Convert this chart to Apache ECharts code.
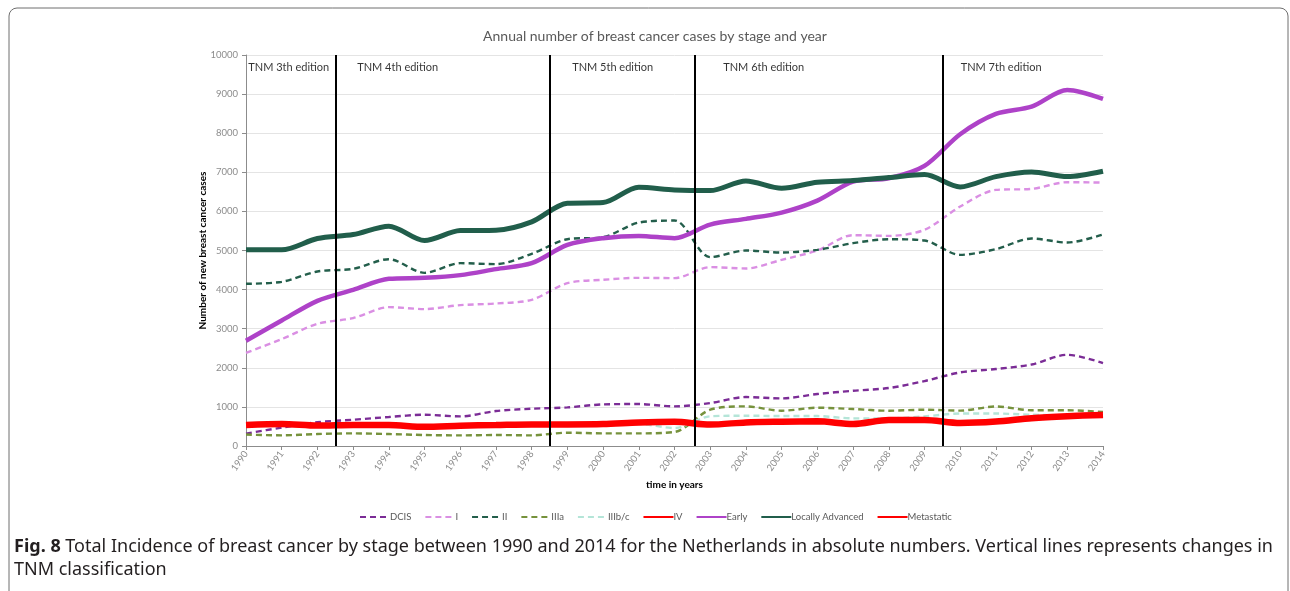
<!DOCTYPE html>
<html>
<head>
<meta charset="utf-8">
<script src="https://cdn.jsdelivr.net/npm/echarts@6/dist/echarts.min.js"></script>
<style>
html,body{margin:0;padding:0;background:#fff;}
#chart{width:1290px;height:591px;}
</style>
</head>
<body>
<div id="chart"></div>
<script>
const years = [1990,1991,1992,1993,1994,1995,1996,1997,1998,1999,2000,2001,2002,2003,2004,2005,2006,2007,2008,2009,2010,2011,2012,2013,2014];
const dcis      = [318,470,608,672,741,800,757,894,953,987,1064,1073,1013,1099,1252,1218,1329,1413,1482,1661,1882,1968,2085,2333,2121];
const stageI    = [2380,2734,3125,3271,3552,3501,3603,3645,3739,4165,4250,4301,4293,4574,4540,4761,5000,5392,5374,5528,6124,6550,6576,6747,6737];
const stageII   = [4148,4199,4463,4531,4778,4429,4676,4651,4914,5289,5340,5714,5766,4830,5000,4948,5017,5187,5289,5255,4889,5034,5306,5204,5408];
const stageIIIa = [293,272,306,323,306,281,272,281,272,340,323,323,358,928,1013,902,979,945,902,928,905,1010,915,915,872];
const stageIIIbc= [530,555,515,535,535,485,515,535,550,550,560,562,460,760,775,766,766,707,707,758,830,830,800,780,790];
const stageIV   = [540,565,522,540,538,490,518,536,553,553,561,604,621,548,604,621,630,561,664,664,587,624,710,762,795];
const early     = [2690,3210,3713,3994,4275,4300,4370,4523,4676,5144,5315,5374,5315,5663,5809,5970,6277,6762,6849,7163,7973,8492,8679,9105,8876];
const locAdv    = [5017,5017,5306,5408,5622,5255,5510,5519,5732,6210,6226,6619,6550,6532,6780,6593,6747,6788,6865,6941,6627,6890,7010,6890,7027];
const metastatic= [540,565,522,540,538,490,518,536,553,553,561,604,621,548,604,621,630,561,664,664,587,624,710,762,795];

const editionBreaks = [1992.5, 1998.5, 2002.57, 2009.5];
const editionLabels = ['TNM 3th edition','TNM 4th edition','TNM 5th edition','TNM 6th edition','TNM 7th edition'];
const editionLabelX = [1990.05, 1993.1, 1999.12, 2003.35, 2010.0];
const editionLabelY = 9670;

const yTicks = {min:0, max:10000, interval:1000};

function pairs(arr){ return years.map((y,i)=>[y,arr[i]]); }

const chart = echarts.init(document.getElementById('chart'), null, {renderer:'canvas'});

const FONT = 'Lato';
function dashed(name, data, color, dash){
  return {name, type:'line', data:pairs(data), smooth:0.3, symbol:'none', showSymbol:false,
    lineStyle:{color, width:2.4, type:dash||[6,4]}, itemStyle:{color}, z:2};
}
function solid(name, data, color, width){
  return {name, type:'line', data:pairs(data), smooth:0.3, symbol:'none', showSymbol:false,
    lineStyle:{color, width, type:'solid'}, itemStyle:{color}, z:3};
}

const series = [
  dashed('DCIS', dcis, '#7B2C96'),
  dashed('I', stageI, '#DA8FE3'),
  dashed('II', stageII, '#235E4B'),
  dashed('IIIa', stageIIIa, '#76923C'),
  dashed('IIIb/c', stageIIIbc, '#B4E5D8'),
  solid('IV', stageIV, '#FF0000', 1.5),
  solid('Early', early, '#AE42C8', 4.5),
  solid('Locally Advanced', locAdv, '#215E4B', 5),
  solid('Metastatic', metastatic, '#FF0000', 6.5),
  {
    name:'breaks', type:'line', data:[], symbol:'none', silent:true,
    markLine:{symbol:'none', silent:true, animation:false,
      label:{show:false},
      lineStyle:{color:'#000', width:2, type:'solid'},
      data: editionBreaks.map(v=>({xAxis:v}))
    }, z:4
  },
  {
    name:'labels', type:'scatter', silent:true, symbolSize:1,
    itemStyle:{color:'rgba(0,0,0,0)'},
    data: editionLabels.map((t,i)=>({name:t, value:[editionLabelX[i], editionLabelY]})),
    label:{show:true, position:'right', distance:0, formatter:'{b}', color:'#000', fontFamily:FONT, fontSize:11},
    z:5
  }
];

const option = {
  animation:false,
  backgroundColor:'#fff',
  title:{text:'Annual number of breast cancer cases by stage and year', left:650, textAlign:'center', top:24,
    textStyle:{color:'#595959', fontFamily:FONT, fontSize:14, fontWeight:'normal'}},
  grid:{left:246, right:187, top:55, bottom:145, containLabel:false},
  legend:{data:['DCIS','I','II','IIIa','IIIb/c','IV','Early','Locally Advanced','Metastatic'],
    left:354, top:507, itemWidth:30, itemHeight:8, itemGap:13,
    itemStyle:{opacity:0},
    textStyle:{color:'#595959', fontFamily:FONT, fontSize:9.5, padding:[0,0,0,-5]}},
  xAxis:{type:'value', min:1990, max:2014, interval:1,
    name:'time in years', nameLocation:'middle', nameGap:34,
    nameTextStyle:{color:'#000', fontFamily:FONT, fontWeight:'bold', fontSize:10},
    axisLine:{show:true, lineStyle:{color:'#8c8c8c', width:1}},
    axisTick:{show:true, length:4, lineStyle:{color:'#8c8c8c'}},
    axisLabel:{rotate:55, color:'#8c8c8c', fontFamily:FONT, fontSize:9.5, margin:6, formatter:v=>String(v)},
    splitLine:{show:false}},
  yAxis:{type:'value', min:yTicks.min, max:yTicks.max, interval:yTicks.interval,
    name:'Number of new breast cancer cases', nameLocation:'middle', nameGap:38, nameMoveOverlap:false,
    nameTextStyle:{color:'#000', fontFamily:FONT, fontWeight:'bold', fontSize:10},
    axisLine:{show:true, lineStyle:{color:'#8c8c8c', width:1}},
    axisTick:{show:true, length:4, lineStyle:{color:'#8c8c8c'}},
    axisLabel:{color:'#8c8c8c', fontFamily:FONT, fontSize:9.5, margin:8, formatter:v=>String(v)},
    splitLine:{show:true, lineStyle:{color:'#e4e4e4', width:1}}},
  series,
  graphic:[
    {type:'rect', shape:{x:9, y:8, width:1279, height:640, r:8}, silent:true, z:-1,
      style:{fill:'none', stroke:'#6e6e6e', lineWidth:1}},
    {type:'text', left:14, top:535, silent:true,
      style:{text:'{b|Fig. 8} Total Incidence of breast cancer by stage between 1990 and 2014 for the Netherlands in absolute numbers. Vertical lines represents changes in\nTNM classification',
        rich:{b:{fontWeight:'bold', fontFamily:'Noto Sans', fontSize:18, fill:'#231f20', lineHeight:23}},
        fontFamily:'Noto Sans', fontSize:18, fill:'#231f20', lineHeight:23}}
  ]
};
chart.setOption(option);
</script>
</body>
</html>
